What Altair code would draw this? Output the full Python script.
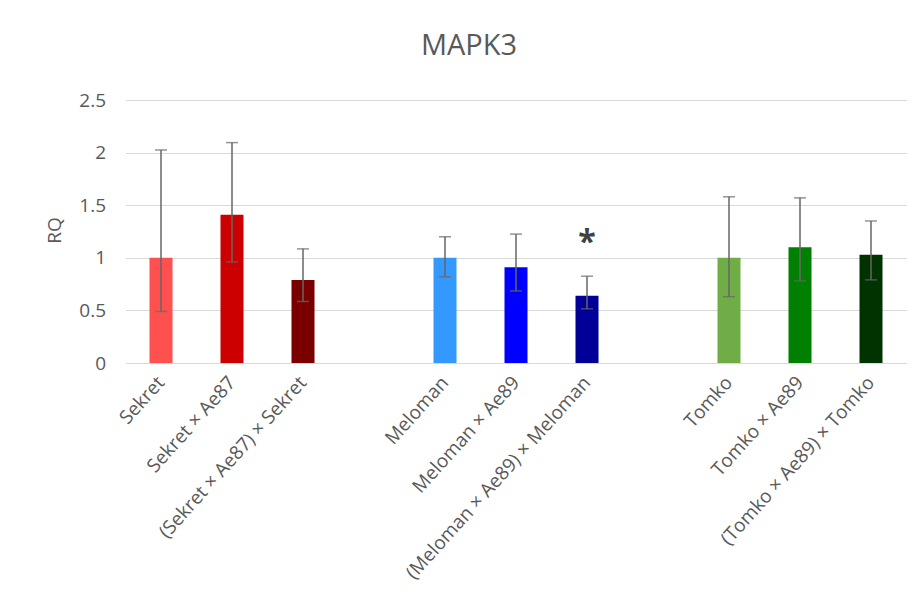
import altair as alt
import pandas as pd

categories = ["Sekret", "Sekret × Ae87", "(Sekret × Ae87) × Sekret",
              "Meloman", "Meloman × Ae89", "(Meloman × Ae89) × Meloman",
              "Tomko", "Tomko × Ae89", "(Tomko × Ae89) × Tomko"]
rq = [1.00, 1.41, 0.79, 1.00, 0.91, 0.64, 1.00, 1.10, 1.03]
err_low = [0.49, 0.96, 0.585, 0.82, 0.685, 0.515, 0.63, 0.78, 0.79]
err_high = [2.025, 2.095, 1.085, 1.20, 1.225, 0.825, 1.58, 1.57, 1.35]
colors = ["#FF5050", "#CC0000", "#7A0000",
          "#3399FF", "#0000FF", "#000099",
          "#70AD47", "#008000", "#003300"]
significant = [False, False, False, False, False, True, False, False, False]
y_ticks = [0, 0.5, 1, 1.5, 2, 2.5]

# x domain with two empty slots separating the three groups
domain = categories[:3] + [" "] + categories[3:6] + ["  "] + categories[6:]

df = pd.DataFrame({
    "cat": categories,
    "rq": rq,
    "lo": err_low,
    "hi": err_high,
    "sig": ["*" if s else "" for s in significant],
})

FONT = "Open Sans"
GREY = "#595959"

x_scale = alt.Scale(domain=domain, paddingInner=0.676, paddingOuter=0.338)
x = alt.X("cat:N", sort=domain, scale=x_scale,
          axis=alt.Axis(title=None, labelAngle=-48, labelFontSize=19, labelColor=GREY,
                        labelFont=FONT, ticks=False, tickSize=0, labelPadding=16,
                        domainColor="#d9d9d9", domainWidth=1, grid=False,
                        labelLimit=400))

y_scale = alt.Scale(domain=[0, 2.5], nice=False, zero=True, padding=0)
y_axis = alt.Axis(title="RQ", values=y_ticks, format="~g",
                  labelFontSize=19, labelColor=GREY, labelFont=FONT,
                  labelPadding=20, ticks=False, tickSize=0, domain=False,
                  gridColor="#d9d9d9", gridWidth=1,
                  titleFont=FONT, titleFontSize=19, titleFontWeight="normal",
                  titleColor=GREY, titleAngle=-90, titleX=-71, titleY=130,
                  titleBaseline="middle", titleAlign="center")

base = alt.Chart(df)

bars = base.mark_bar().encode(
    x=x,
    y=alt.Y("rq:Q", scale=y_scale, axis=y_axis),
    color=alt.Color("cat:N", scale=alt.Scale(domain=categories, range=colors), legend=None),
)

rules = base.mark_rule(color="#666666", strokeWidth=1.5).encode(
    x=alt.X("cat:N", sort=domain, scale=x_scale),
    y=alt.Y("lo:Q", scale=y_scale),
    y2="hi:Q",
)

caps_hi = base.mark_tick(color="#666666", thickness=1.5, size=12, orient="horizontal").encode(
    x=alt.X("cat:N", sort=domain, scale=x_scale), y=alt.Y("hi:Q", scale=y_scale))
caps_lo = base.mark_tick(color="#666666", thickness=1.5, size=12, orient="horizontal").encode(
    x=alt.X("cat:N", sort=domain, scale=x_scale), y=alt.Y("lo:Q", scale=y_scale))

stars = base.mark_text(font=FONT, fontSize=32, fontWeight="bold", color="#404040",
                       baseline="alphabetic", dy=-23).encode(
    x=alt.X("cat:N", sort=domain, scale=x_scale), y=alt.Y("hi:Q", scale=y_scale),
    text="sig:N")

chart = alt.layer(bars, rules, caps_hi, caps_lo, stars).properties(
    width=781, height=263,
    title=alt.TitleParams("MAPK3", font=FONT, fontSize=29, fontWeight="normal",
                          color=GREY, anchor="middle", dx=-47, offset=7,
                          baseline="alphabetic"),
    autosize=alt.AutoSizeParams(type="none"),
    padding={"left": 117.5, "top": 92, "right": 4, "bottom": 234},
    background="white",
).configure_view(stroke=None)

chart.save("out.html", embed_options={"renderer": "svg", "actions": False})
